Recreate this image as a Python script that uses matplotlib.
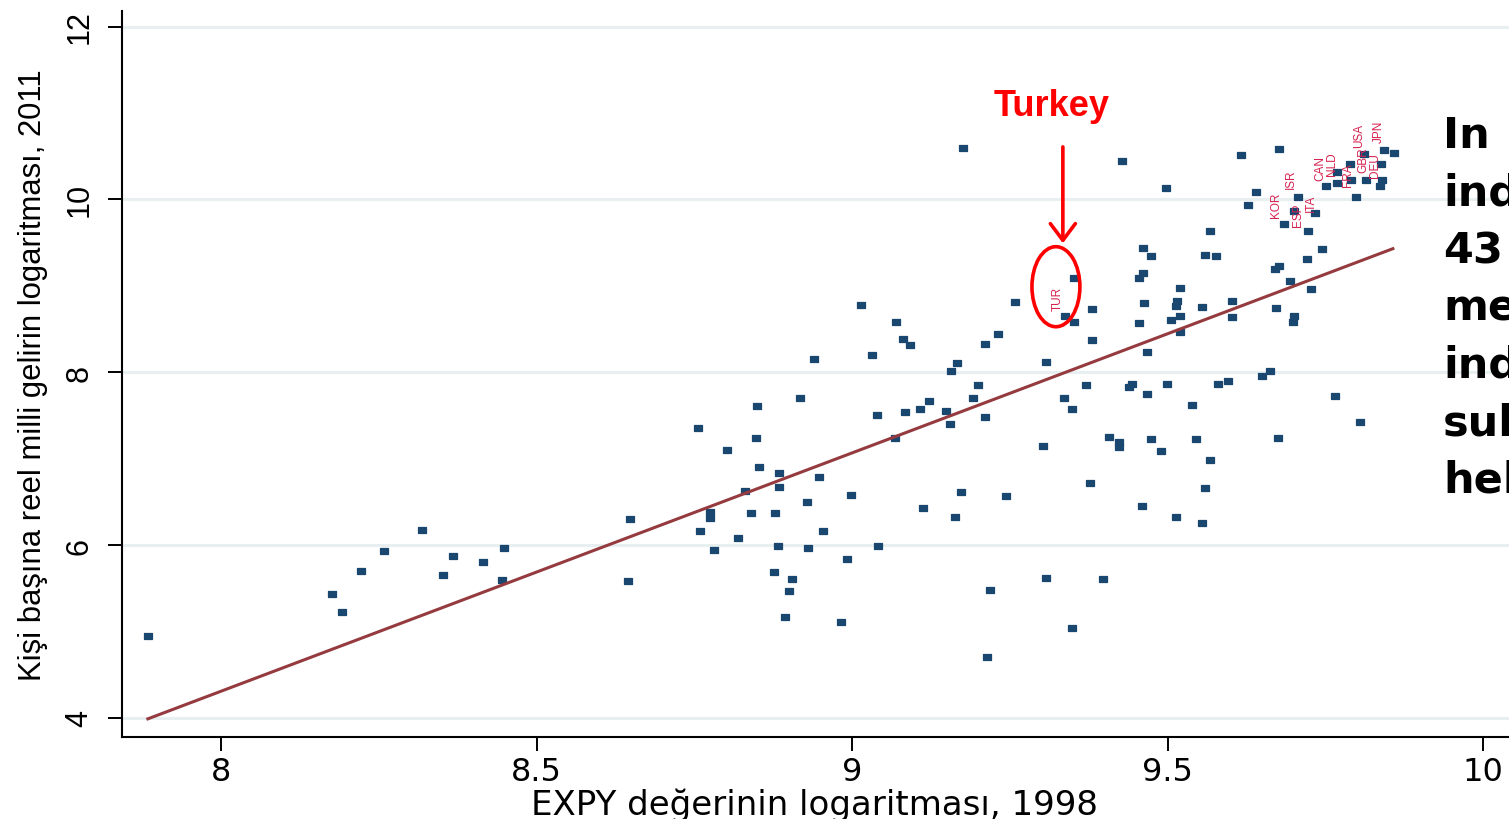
import matplotlib
matplotlib.use("Agg")
import matplotlib.pyplot as plt
from matplotlib.patches import Ellipse, FancyArrowPatch

expy = [7.884, 8.175, 8.191, 8.222, 8.258, 8.318, 8.352, 8.367, 8.415, 8.449, 8.445,
        9.014, 9.070, 9.080, 9.091, 8.940, 9.032, 9.211, 9.232, 9.157, 9.167, 9.199,
        8.918, 8.849, 9.191, 9.122, 9.108, 9.084, 9.039, 9.149, 9.155, 9.211, 8.756,
        8.847, 9.068, 8.801, 8.853, 8.884, 8.948, 8.884, 8.831, 8.998, 9.173, 8.928,
        9.113, 8.775, 8.775, 8.839, 8.878, 8.648, 9.163, 8.759, 8.954, 8.819, 8.781,
        8.882, 8.930, 9.041, 8.992, 8.877, 8.905, 8.900, 8.645, 9.218, 8.894, 8.982,
        9.213, 9.175, 9.427, 9.497, 9.616, 9.627, 9.567, 9.461, 9.473, 9.559, 9.577,
        9.461, 9.454, 9.351, 9.519, 9.515, 9.513, 9.258, 9.380, 9.463, 9.555, 9.602,
        9.602, 9.520, 9.506, 9.338, 9.351, 9.455, 9.519, 9.380, 9.467, 9.308, 9.370,
        9.443, 9.439, 9.499, 9.580, 9.596, 9.336, 9.349, 9.467, 9.539, 9.302, 9.407,
        9.423, 9.423, 9.473, 9.489, 9.545, 9.567, 9.650, 9.662, 9.765, 9.805, 9.675,
        9.244, 9.377, 9.559, 9.459, 9.513, 9.554, 9.308, 9.397, 9.349, 9.745, 9.721,
        9.676, 9.670, 9.694, 9.727, 9.672, 9.700, 9.698, 9.677, 9.640, 9.706, 9.700,
        9.685, 9.734, 9.722, 9.751, 9.769, 9.769, 9.789, 9.791, 9.799, 9.811, 9.815,
        9.838, 9.839, 9.837, 9.843, 9.858]
gdp = [4.95, 5.44, 5.23, 5.70, 5.93, 6.18, 5.66, 5.87, 5.81, 5.97, 5.60,
       8.78, 8.58, 8.39, 8.31, 8.15, 8.20, 8.33, 8.44, 8.01, 8.11, 7.85,
       7.70, 7.61, 7.70, 7.67, 7.57, 7.54, 7.50, 7.55, 7.40, 7.48, 7.36,
       7.24, 7.24, 7.10, 6.90, 6.83, 6.79, 6.67, 6.63, 6.58, 6.62, 6.50,
       6.43, 6.38, 6.31, 6.37, 6.37, 6.30, 6.33, 6.16, 6.16, 6.08, 5.94,
       5.99, 5.97, 5.99, 5.84, 5.69, 5.61, 5.47, 5.59, 5.48, 5.17, 5.11,
       4.71, 10.59, 10.44, 10.13, 10.51, 9.94, 9.63, 9.44, 9.34, 9.36, 9.34,
       9.15, 9.09, 9.09, 8.98, 8.83, 8.77, 8.81, 8.73, 8.80, 8.75, 8.82,
       8.64, 8.65, 8.61, 8.65, 8.58, 8.57, 8.47, 8.37, 8.24, 8.12, 7.85,
       7.87, 7.83, 7.86, 7.86, 7.90, 7.70, 7.58, 7.75, 7.62, 7.15, 7.25,
       7.19, 7.14, 7.23, 7.09, 7.23, 6.99, 7.96, 8.01, 7.72, 7.43, 7.24,
       6.57, 6.72, 6.66, 6.45, 6.33, 6.26, 5.62, 5.61, 5.04, 9.43, 9.31,
       9.23, 9.19, 9.06, 8.96, 8.74, 8.65, 8.58, 10.58, 10.08, 10.03, 9.87,
       9.71, 9.84, 9.64, 10.15, 10.32, 10.19, 10.41, 10.22, 10.03, 10.53, 10.23,
       10.41, 10.22, 10.15, 10.57, 10.54]

# country codes (label anchor = bottom centre of the vertical text)
codes = ["TUR", "KOR", "ISR", "ESP", "ITA", "CAN", "NLD", "FRA", "GBR", "USA", "DEU", "JPN"]
code_x = [9.326, 9.672, 9.696, 9.707, 9.727, 9.742, 9.761, 9.786, 9.810, 9.803, 9.829, 9.834]
code_y = [8.72, 9.80, 10.13, 9.69, 9.87, 10.23, 10.28, 10.15, 10.32, 10.61, 10.26, 10.67]

# linear fit end points
fit_x = [7.884, 9.857]
fit_y = [3.99, 9.43]

side_text = ["In", "ind", "43", "me", "ind", "sub", "hel"]

W, H = 1509, 820
fig = plt.figure(figsize=(W / 100, H / 100), dpi=100)
ax = fig.add_axes([122 / W, 82 / H, (W - 122) / W, 726 / H])

ax.set_xlim(7.843, 10.041)
ax.set_ylim(3.78, 12.18)

marker_shape = [(-1.3, -1), (1.3, -1), (1.3, 1), (-1.3, 1), (-1.3, -1)]
ax.plot(expy, gdp, linestyle="none", marker=marker_shape, markersize=6.3,
        color="#1a476f", mec="#1a476f", mew=0.9, zorder=3)
ax.plot(fit_x, fit_y, color="#953b3f", linewidth=2.2, zorder=4)

for c, cx, cy in zip(codes, code_x, code_y):
    ax.text(cx, cy, c, rotation=90, ha="center", va="bottom", fontsize=8.5,
            color="#d6224f", family="Liberation Sans", zorder=5)

ax.set_yticks([4, 6, 8, 10, 12])
ax.set_xticks([8, 8.5, 9, 9.5, 10])
ax.set_xticklabels(["8", "8.5", "9", "9.5", "10"])
ax.grid(axis="y", color="#e7eff1", linewidth=2.2, zorder=0)
ax.set_axisbelow(True)

for s in ["top", "right"]:
    ax.spines[s].set_visible(False)
for s in ["left", "bottom"]:
    ax.spines[s].set_linewidth(1.5)

ax.tick_params(axis="both", length=10, width=1.4, direction="out")
ax.tick_params(axis="x", pad=4, labelsize=23)
ax.tick_params(axis="y", pad=10, labelsize=22, labelrotation=90)
for lb in ax.get_yticklabels():
    lb.set_family("Liberation Sans")
    lb.set_va("center")
for lb in ax.get_xticklabels():
    lb.set_family("DejaVu Sans")

ax.set_ylabel("Kişi başına reel milli gelirin logaritması, 2011",
              fontsize=22.3, family="Liberation Sans")
ax.yaxis.set_label_coords(-0.064, 0.5)
ax.yaxis.label.set_va("center")
ax.set_xlabel("EXPY değerinin logaritması, 1998", fontsize=24.5, family="DejaVu Sans")
ax.xaxis.set_label_coords(0.499, -0.093)
ax.xaxis.label.set_va("center")

# Turkey highlight
tur_center = (9.323, 8.99)
ax.add_patch(Ellipse(tur_center, 0.076, 0.926, fill=False, edgecolor="red",
                     linewidth=2.6, zorder=6, clip_on=False))
arrow = FancyArrowPatch((9.334, 10.64), (9.334, 9.46), arrowstyle="->,head_length=0.6,head_width=0.45",
                        mutation_scale=20, color="red", linewidth=2.6, zorder=6, clip_on=False)
ax.add_patch(arrow)
fig.text(1051.5 / W, 1 - 116 / H, "Turkey", color="red", fontsize=26, fontweight="bold",
         family="Liberation Sans", ha="center", va="baseline")

for i, t in enumerate(side_text):
    fig.text(1443 / W, 1 - (148 + 57.5 * i) / H, t, fontsize=31, fontweight="bold",
             family="DejaVu Sans", ha="left", va="baseline", color="black")

fig.savefig("out.png", dpi=100)
